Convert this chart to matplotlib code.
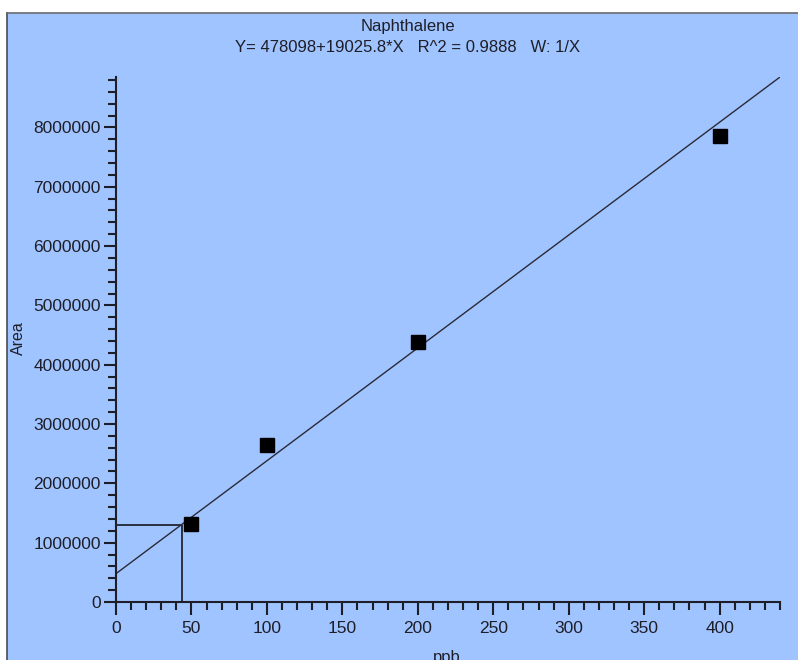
import matplotlib
matplotlib.use('Agg')
import matplotlib.pyplot as plt
from matplotlib.patches import Rectangle
from matplotlib.ticker import MultipleLocator
import numpy as np

# 标定曲线数据
conc = [50, 100, 200, 400]
area = [1310000, 2650000, 4380000, 7850000]
intercept = 478098
slope = 19025.8
x_max = 440
y_max = 8850000
quant_x = 43.5
title = 'Naphthalene'
subtitle = 'Y= 478098+19025.8*X   R^2 = 0.9888   W: 1/X'

plt.rcParams['font.family'] = ['Liberation Sans', 'DejaVu Sans']

bg = '#A0C4FF'
fg = '#1e1e28'

fig = plt.figure(figsize=(7.98, 6.6), dpi=100)
fig.patch.set_facecolor('white')
W, H = 798, 660

# 蓝色面板（放在底层坐标系中）
bg_ax = fig.add_axes([0, 0, 1, 1], zorder=-1)
bg_ax.set_xlim(0, W)
bg_ax.set_ylim(H, 0)
bg_ax.axis('off')
bg_ax.add_patch(Rectangle((7, 13), W - 7, H - 13, facecolor=bg, edgecolor='none'))
bg_ax.plot([7, 7], [13, H], color='#4a4a55', linewidth=1.2)
bg_ax.plot([7, W], [13, 13], color='#6a6a70', linewidth=1.2)

ax = fig.add_axes([116 / W, 1 - 602 / H, (780 - 116) / W, (602 - 77) / H])
ax.set_facecolor('none')

# 拟合线
xs = np.array([0, x_max])
ax.plot(xs, intercept + slope * xs, color='#2a2a38', linewidth=1.0, zorder=2)

# 定量线
qy = intercept + slope * quant_x
ax.plot([0, quant_x, quant_x], [qy, qy, 0], color='#2a3040', linewidth=1.4, zorder=2)

# 数据点
ax.plot(conc, area, linestyle='none', marker='s', markersize=9.5, color='black', zorder=3,
        clip_on=False)

ax.set_xlim(0, x_max)
ax.set_ylim(0, y_max)
for s in ['top', 'right']:
    ax.spines[s].set_visible(False)
for s in ['left', 'bottom']:
    ax.spines[s].set_color(fg)
    ax.spines[s].set_linewidth(1.5)

ax.xaxis.set_major_locator(MultipleLocator(50))
ax.xaxis.set_minor_locator(MultipleLocator(10))
ax.yaxis.set_major_locator(MultipleLocator(1000000))
ax.yaxis.set_minor_locator(MultipleLocator(200000))
ax.yaxis.set_major_formatter(matplotlib.ticker.FuncFormatter(lambda v, p: '%d' % v))

ax.tick_params(axis='both', which='major', length=9, width=1.5, color=fg,
               labelsize=12.5, labelcolor=fg)
ax.tick_params(axis='both', which='minor', length=5.5, width=1.5, color=fg)
ax.tick_params(axis='y', which='major', pad=2)
ax.tick_params(axis='x', which='major', pad=5)

fig.text(408 / W, 1 - 27 / H, title, ha='center', va='center', fontsize=12, color=fg)
fig.text(408 / W, 1 - 48 / H, subtitle, ha='center', va='center', fontsize=12, color=fg)
fig.text(18 / W, 1 - 338 / H, 'Area', rotation=90, ha='center', va='center', fontsize=11.5, color=fg)
fig.text(447 / W, 1 - 650 / H, 'ppb', ha='center', va='top', fontsize=12, color=fg)

plt.savefig('out.png', dpi=100, facecolor=fig.get_facecolor())
plt.close()
